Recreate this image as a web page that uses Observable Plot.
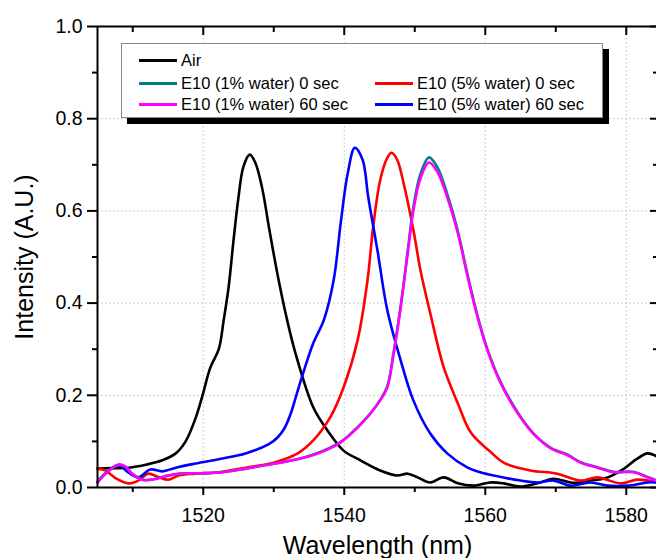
<!DOCTYPE html>
<html>
<head>
<meta charset="utf-8">
<script src="https://cdn.jsdelivr.net/npm/d3@7"></script>
<script src="https://cdn.jsdelivr.net/npm/@observablehq/plot@0.6"></script>
<style>
  html, body { margin: 0; padding: 0; background: #fff; }
  #wrap { position: relative; width: 656px; height: 558px; overflow: hidden; font-family: "Liberation Sans", Arial, sans-serif; }
  #legend { position: absolute; left: 121px; top: 43px; width: 480px; height: 73px; background: #fff;
            border: 1px solid #888; box-shadow: 6px 6px 0 #000; }
  .item { position: absolute; height: 20px; display: flex; align-items: center; font-size: 16.5px; color: #000; white-space: nowrap; }
  .item .sw { width: 38px; height: 0; border-top: 3px solid; margin-right: 4px; }
</style>
</head>
<body>
<div id="wrap"></div>
<script>
// ---- data ----
const seriesNames = ["Air", "E10 (1% water) 0 sec", "E10 (1% water) 60 sec", "E10 (5% water) 0 sec", "E10 (5% water) 60 sec"];
const seriesColors = ["#000000", "#008080", "#ff00ff", "#ff0000", "#0000ff"];

const airWl = [1505, 1507, 1509.4, 1512, 1514.2, 1516.1, 1517.5, 1518.9, 1519.9, 1521.0, 1522.2, 1522.9, 1523.6, 1524.3, 1525.0, 1525.7, 1526.6, 1527.4, 1528.4, 1529.3, 1530.5, 1531.9, 1533.1, 1535.6, 1537.6, 1539.9, 1542.3, 1545.1, 1547.5, 1549.0, 1550.4, 1552.2, 1554.1, 1556.1, 1558.3, 1560.7, 1562.6, 1565.0, 1567.8, 1569.7, 1572.5, 1575.0, 1577.0, 1579.6, 1581.5, 1583.0, 1584.4];
const airInt = [0.041, 0.042, 0.043, 0.050, 0.059, 0.074, 0.100, 0.150, 0.200, 0.260, 0.300, 0.363, 0.435, 0.537, 0.630, 0.696, 0.722, 0.704, 0.646, 0.566, 0.465, 0.363, 0.290, 0.174, 0.124, 0.080, 0.059, 0.037, 0.026, 0.030, 0.022, 0.011, 0.022, 0.009, 0.004, 0.011, 0.009, 0.002, 0.011, 0.019, 0.010, 0.015, 0.020, 0.040, 0.062, 0.074, 0.067];

const w1s0Wl = [1505, 1506.5, 1508, 1509, 1510, 1511.5, 1513, 1514.5, 1516.5, 1519.9, 1522.7, 1526, 1530.2, 1533.8, 1536.6, 1539.5, 1541.9, 1543.7, 1545.1, 1546.1, 1547.0, 1548.0, 1549.0, 1549.8, 1550.8, 1552.0, 1553.2, 1554.6, 1556.1, 1557.5, 1558.9, 1560.3, 1562.2, 1564.6, 1566.8, 1569.3, 1571.7, 1573.5, 1575.9, 1578.2, 1581, 1583, 1584.4];
const w1s0Int = [0.013, 0.036, 0.049, 0.045, 0.029, 0.017, 0.018, 0.024, 0.030, 0.031, 0.033, 0.041, 0.052, 0.063, 0.077, 0.099, 0.131, 0.161, 0.190, 0.219, 0.293, 0.394, 0.513, 0.608, 0.680, 0.716, 0.695, 0.637, 0.557, 0.461, 0.373, 0.300, 0.228, 0.163, 0.118, 0.086, 0.071, 0.055, 0.044, 0.034, 0.034, 0.023, 0.015];

const w1s60Wl = [1505, 1506.5, 1508, 1509, 1510, 1511.5, 1513, 1514.5, 1516.5, 1519.9, 1522.7, 1526, 1530.2, 1533.8, 1536.6, 1539.5, 1541.9, 1543.7, 1545.1, 1546.1, 1547.0, 1548.0, 1549.0, 1549.8, 1550.8, 1552.0, 1553.2, 1554.6, 1556.1, 1557.5, 1558.9, 1560.3, 1562.2, 1564.6, 1566.8, 1569.3, 1571.7, 1573.5, 1575.9, 1578.2, 1581, 1583, 1584.4];
const w1s60Int = [0.012, 0.035, 0.050, 0.045, 0.028, 0.016, 0.018, 0.024, 0.030, 0.031, 0.033, 0.041, 0.052, 0.063, 0.076, 0.098, 0.130, 0.160, 0.189, 0.217, 0.290, 0.390, 0.508, 0.600, 0.670, 0.705, 0.685, 0.630, 0.552, 0.457, 0.370, 0.298, 0.226, 0.161, 0.117, 0.085, 0.070, 0.054, 0.043, 0.033, 0.033, 0.022, 0.014];

const w5s0Wl = [1505, 1506.1, 1507.6, 1509.4, 1510.8, 1512.2, 1513.7, 1515.1, 1516.5, 1518.9, 1522.2, 1526, 1530.2, 1533.4, 1535.6, 1538, 1539.9, 1541.9, 1543.3, 1544.1, 1545.1, 1546.1, 1546.7, 1547.5, 1548.4, 1549.8, 1550.8, 1552.2, 1554.1, 1556.1, 1558.0, 1560.7, 1562.6, 1566.4, 1570.2, 1573.5, 1575.9, 1579.2, 1581.6, 1584.4];
const w5s0Int = [0.041, 0.037, 0.020, 0.009, 0.015, 0.030, 0.022, 0.017, 0.026, 0.030, 0.033, 0.043, 0.055, 0.074, 0.102, 0.152, 0.217, 0.320, 0.450, 0.565, 0.667, 0.715, 0.726, 0.711, 0.661, 0.559, 0.472, 0.378, 0.261, 0.183, 0.118, 0.078, 0.054, 0.037, 0.030, 0.015, 0.022, 0.009, 0.017, 0.011];

const w5s60Wl = [1505, 1506.1, 1508, 1509.4, 1510.8, 1512.5, 1514.2, 1516.1, 1518.9, 1522.7, 1526, 1529.3, 1530.5, 1531.5, 1532.4, 1533.2, 1534.0, 1535.6, 1537.1, 1538.5, 1539.5, 1540.5, 1541.5, 1542.6, 1543.4, 1544.7, 1546.1, 1548, 1549.8, 1552.2, 1554.6, 1557.5, 1559.3, 1561.2, 1565, 1567.4, 1569.7, 1572.1, 1574.9, 1577.3, 1580.2, 1583, 1584.4];
const w5s60Int = [0.011, 0.030, 0.048, 0.032, 0.022, 0.039, 0.035, 0.043, 0.052, 0.063, 0.074, 0.094, 0.108, 0.128, 0.160, 0.200, 0.240, 0.313, 0.363, 0.450, 0.574, 0.682, 0.737, 0.711, 0.630, 0.515, 0.385, 0.276, 0.189, 0.117, 0.074, 0.043, 0.033, 0.026, 0.015, 0.011, 0.015, 0.004, 0.011, 0.004, 0.004, 0.011, 0.011];

const xMajorTicks = [1520, 1540, 1560, 1580];
const xMinorTicks = [1510, 1530, 1550, 1570];
const yMajorTicks = [0.0, 0.2, 0.4, 0.6, 0.8, 1.0];
const yMinorTicks = [0.1, 0.3, 0.5, 0.7, 0.9];
const xDomain = [1505, 1584.43];
const yDomain = [0, 1];

// ---- build table ----
const wls = [airWl, w1s0Wl, w1s60Wl, w5s0Wl, w5s60Wl];
const ints = [airInt, w1s0Int, w1s60Int, w5s0Int, w5s60Int];
const rows = [];
wls.forEach((wl, i) => wl.forEach((w, j) => rows.push({series: seriesNames[i], wl: w, v: ints[i][j]})));
const drawOrder = [0, 3, 4, 1, 2];

const fmtY = d => d.toFixed(1);
const fmtX = d => String(d);
const blank = () => "";

const chart = Plot.plot({
  width: 656,
  height: 558,
  marginLeft: 97,
  marginRight: -1,
  marginTop: 26,
  marginBottom: 71,
  style: {fontFamily: "'Liberation Sans', Arial, sans-serif", fontSize: "19px", color: "#000", background: "#fff", overflow: "visible"},
  x: {domain: xDomain},
  y: {domain: yDomain},
  color: {domain: seriesNames, range: seriesColors},
  marks: [
    Plot.gridX(xMajorTicks, {stroke: "#bdbdbd", strokeOpacity: 1, strokeDasharray: "1.5,2.5"}),
    Plot.gridY(yMajorTicks.slice(1, -1), {stroke: "#bdbdbd", strokeOpacity: 1, strokeDasharray: "1.5,2.5"}),
    ...drawOrder.map(i => Plot.line(rows.filter(r => r.series === seriesNames[i]), {
      x: "wl", y: "v", stroke: seriesColors[i], strokeWidth: 2.6, curve: "catmull-rom"
    })),
    Plot.ruleX([xDomain[0]], {stroke: "#000", strokeWidth: 2}),
    Plot.ruleY([0], {stroke: "#000", strokeWidth: 2}),
    Plot.ruleY([1], {stroke: "#000", strokeWidth: 2}),
    // bottom axis
    Plot.axisX({ticks: xMajorTicks, tickSize: 8, tickPadding: 13, strokeWidth: 2, label: null, tickFormat: fmtX, fontSize: 19.5}),
    Plot.axisX({ticks: xMinorTicks, tickSize: 5, strokeWidth: 2, label: null, tickFormat: blank}),
    // top axis (inward ticks)
    Plot.axisX({anchor: "top", ticks: xMajorTicks, tickSize: 8, dy: 8, strokeWidth: 2, label: null, tickFormat: blank}),
    Plot.axisX({anchor: "top", ticks: xMinorTicks, tickSize: 5, dy: 5, strokeWidth: 2, label: null, tickFormat: blank}),
    // left axis
    Plot.axisY({ticks: yMajorTicks, tickSize: 10, tickPadding: 5, strokeWidth: 2, label: null, tickFormat: fmtY, fontSize: 19.5}),
    Plot.axisY({ticks: yMinorTicks, tickSize: 5, strokeWidth: 2, label: null, tickFormat: blank}),
    // right axis (inward ticks)
    Plot.axisY({anchor: "right", ticks: yMajorTicks, tickSize: 8, dx: -8, strokeWidth: 2, label: null, tickFormat: blank}),
    Plot.axisY({anchor: "right", ticks: yMinorTicks, tickSize: 5, dx: -5, strokeWidth: 2, label: null, tickFormat: blank}),
    // axis titles
    Plot.text(["Intensity (A.U.)"], {frameAnchor: "left", rotate: -90, dx: -73, textAnchor: "middle", lineAnchor: "middle", fontSize: 25}),
    Plot.text(["Wavelength (nm)"], {frameAnchor: "bottom", dy: 58, textAnchor: "middle", lineAnchor: "middle", fontSize: 25})
  ]
});

const wrap = document.getElementById("wrap");
wrap.appendChild(chart);

// legend
const legend = document.createElement("div");
legend.id = "legend";
const legendLayout = [
  {i: 0, left: 17, top: 6},
  {i: 1, left: 17, top: 29},
  {i: 2, left: 17, top: 50},
  {i: 3, left: 253, top: 29},
  {i: 4, left: 253, top: 50}
];
legendLayout.forEach(({i, left, top}) => {
  const it = document.createElement("div");
  it.className = "item";
  it.style.left = left + "px";
  it.style.top = top + "px";
  const sw = document.createElement("span");
  sw.className = "sw";
  sw.style.borderTopColor = seriesColors[i];
  const tx = document.createElement("span");
  tx.textContent = seriesNames[i];
  it.appendChild(sw);
  it.appendChild(tx);
  legend.appendChild(it);
});
wrap.appendChild(legend);
</script>
</body>
</html>
